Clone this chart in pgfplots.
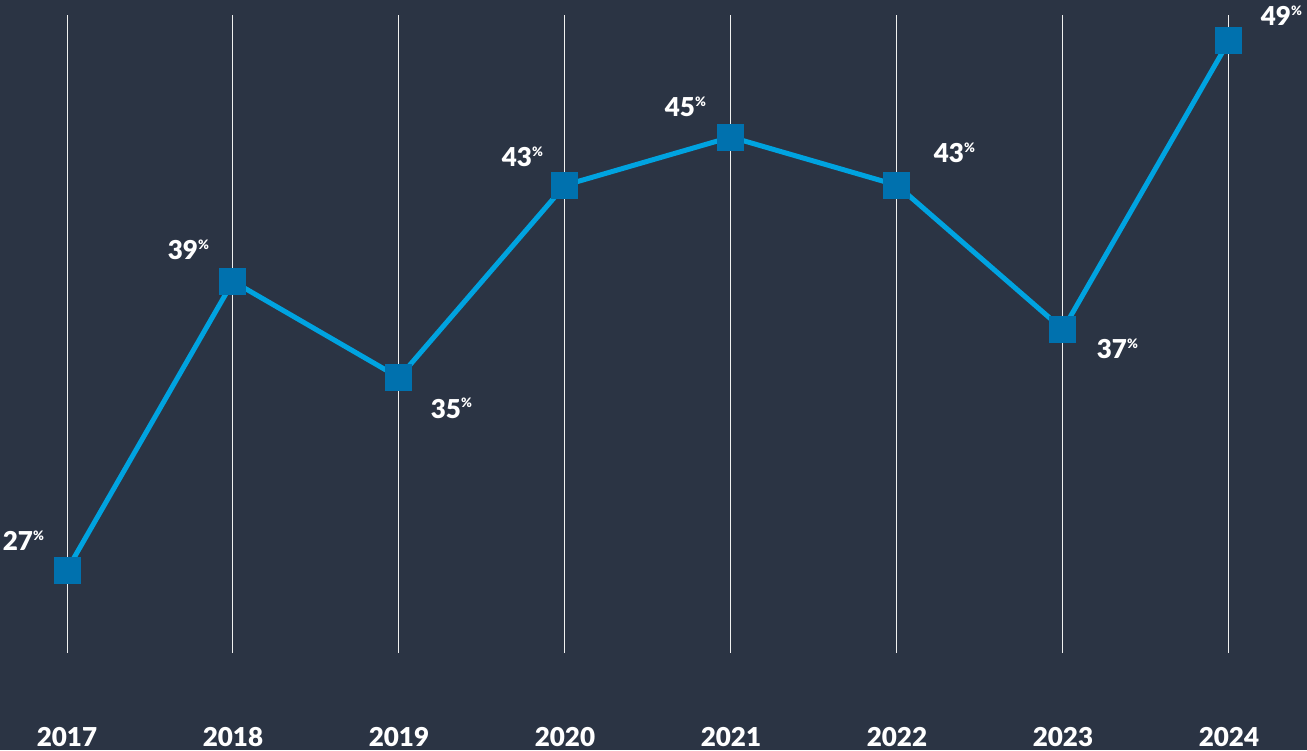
\documentclass[border=0pt]{standalone}
\usepackage{fontspec}
\setmainfont{Lato}[BoldFont={Lato Black}]
\usepackage{pgfplots}
\pgfplotsset{compat=1.18}
\definecolor{bgc}{HTML}{2B3444}
\definecolor{linec}{HTML}{00A3E0}
\definecolor{markc}{HTML}{0071AE}
\newcommand{\lab}[1]{\fontsize{26}{26}\selectfont\bfseries #1\rlap{\smash{\raisebox{0.4em}{\fontsize{13}{13}\selectfont\bfseries\%}}}}
\begin{document}
\begin{tikzpicture}
\useasboundingbox (0,0) rectangle (1307pt,750pt);
\fill[bgc] (0,0) rectangle (1307pt,750pt);
\begin{axis}[
  at={(67pt,97pt)}, anchor=south west,
  scale only axis, width=1162pt, height=638pt,
  xmin=2017, xmax=2024, ymin=23.549, ymax=50.077,
  axis lines=none,
  clip=false,
  xtick={2017,...,2024},
  ytick=\empty,
]
\foreach \xx in {2017,...,2024} {
  \edef\tmp{\noexpand\draw[white!88!gray, line width=1pt] (axis cs:\xx,23.549) -- (axis cs:\xx,50.077);}
  \tmp
}
\addplot[color=linec, line width=5pt, mark=square*, mark size=13pt,
  mark options={fill=markc, draw=markc, line width=0pt}]
  coordinates {(2017,27) (2018,39) (2019,35) (2020,43) (2021,45) (2022,43) (2023,37) (2024,49)};
\foreach \xx in {2017,...,2024} {
  \edef\tmp{\noexpand\node[text=white, anchor=center, font=\noexpand\fontsize{26}{26}\noexpand\selectfont\noexpand\bfseries] at (axis cs:\xx,23.549) [yshift=-84pt] {\xx};}
  \tmp
}
\node[text=white] at (axis cs:2017,27) [xshift=-49pt, yshift=29pt] {\lab{27}};
\node[text=white] at (axis cs:2018,39) [xshift=-50pt, yshift=31pt] {\lab{39}};
\node[text=white] at (axis cs:2019,35) [xshift=47pt, yshift=-31pt] {\lab{35}};
\node[text=white] at (axis cs:2020,43) [xshift=-48pt, yshift=28pt] {\lab{43}};
\node[text=white] at (axis cs:2021,45) [xshift=-51pt, yshift=30pt] {\lab{45}};
\node[text=white] at (axis cs:2022,43) [xshift=52pt, yshift=32pt] {\lab{43}};
\node[text=white] at (axis cs:2023,37) [xshift=49pt, yshift=-20pt] {\lab{37}};
\node[text=white] at (axis cs:2024,49) [xshift=47pt, yshift=25pt] {\lab{49}};
\end{axis}
\end{tikzpicture}
\end{document}
